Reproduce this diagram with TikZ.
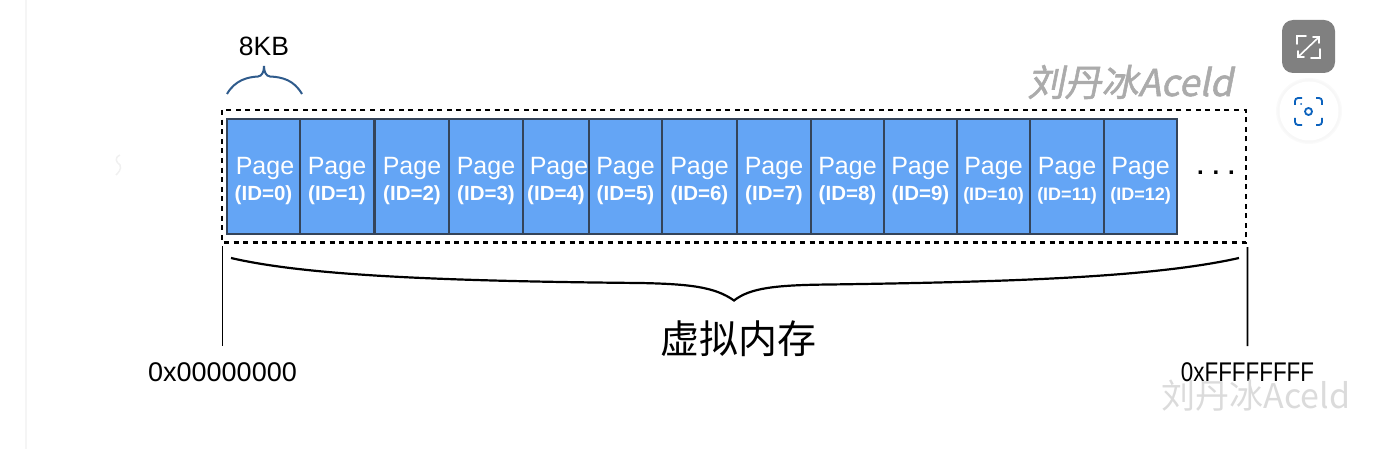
\documentclass[tikz,border=0pt]{standalone}
\usepackage{fontspec}
\setmainfont{Liberation Sans}
\newfontfamily\cjk{Noto Sans CJK SC}
\newfontfamily\cjkslant[FakeSlant=0.2,FakeBold=1.5]{Noto Sans CJK SC}
\definecolor{pageblue}{HTML}{64A5F5}
\definecolor{pageline}{HTML}{34445A}
\definecolor{bracketblue}{HTML}{2F5B8C}
\definecolor{scanblue}{HTML}{0B62BD}
\newcommand{\pagetext}[2]{{\fontsize{25}{26}\selectfont\rule{0pt}{27pt}Page}\\[5pt]{\fontsize{#2}{20}\selectfont\bfseries\rule[-5pt]{0pt}{20.5pt}(ID=#1)}}

\begin{document}
\begin{tikzpicture}[x=1pt,y=-1pt]
\tikzstyle{pagebox} = [rectangle, draw = pageline, fill = pageblue, line width = 1.2pt, minimum height = 115pt, inner sep = 0pt, text = white, align = center]
\tikzstyle{address} = [font = \fontsize{27}{30}\selectfont, inner xsep = 0pt, inner ysep = 16pt]
\tikzstyle{tick} = [line width = 1.6pt]
\useasboundingbox (0,0) rectangle (1399,449);
\draw[draw = black!4, line width = 1.5pt] (26,0)--(26,449);
\draw[draw = black!6, line width = 1.5pt] (120,155) .. controls (114,158) and (116,162) .. (120,165) .. controls (122,169) and (118,173) .. (116,175);
% pages
\node[pagebox, minimum width = 73pt] (p0) at (263.5,176.5) {\hspace*{3pt}\pagetext{0}{20.5}};
\node[pagebox, minimum width = 74pt] (p1) at (337,176.5) {\pagetext{1}{20.5}};
\node[pagebox, minimum width = 74pt] (p2) at (412,176.5) {\pagetext{2}{20.5}};
\node[pagebox, minimum width = 74pt] (p3) at (486,176.5) {\pagetext{3}{20.5}};
\node[pagebox, minimum width = 66pt] (p4) at (556,176.5) {\hspace*{6pt}\pagetext{4}{20.5}};
\node[pagebox, minimum width = 73pt] (p5) at (625.5,176.5) {\pagetext{5}{20.5}};
\node[pagebox, minimum width = 75pt] (p6) at (699.5,176.5) {\pagetext{6}{20.5}};
\node[pagebox, minimum width = 74pt] (p7) at (774,176.5) {\pagetext{7}{20.5}};
\node[pagebox, minimum width = 73pt] (p8) at (847.5,176.5) {\pagetext{8}{20.5}};
\node[pagebox, minimum width = 73pt] (p9) at (920.5,176.5) {\pagetext{9}{20.5}};
\node[pagebox, minimum width = 73pt] (p10) at (993.5,176.5) {\pagetext{10}{18}};
\node[pagebox, minimum width = 74pt] (p11) at (1067,176.5) {\pagetext{11}{18}};
\node[pagebox, minimum width = 73pt] (p12) at (1140.5,176.5) {\pagetext{12}{18}};
\node[font = \fontsize{24}{24}\selectfont\bfseries] (more) at (1216,173) {. . .};
\draw[black, line width = 2.2pt, dash pattern = on 5pt off 4.6pt] (222,110) rectangle (1246,242.5);
% size of one page
\node[font = \fontsize{26.5}{30}\selectfont] (size) at (264,46) {8KB};
\coordinate (sizeleft) at (227,94);
\coordinate (sizetip) at (264,66);
\coordinate (sizeright) at (302,94);
\draw[draw = bracketblue, line width = 2pt] (sizeleft) .. controls (235,80) and (248,77) .. (258,76.5) .. controls (262,76) and (264,72) .. (sizetip) .. controls (264,72) and (266,76) .. (270,76.5) .. controls (282,77) and (294,80) .. (sizeright);
% whole range
\coordinate (rangeleft) at (231,258);
\coordinate (rangetip) at (734,300.5);
\coordinate (rangeright) at (1239,258);
\draw[line width = 2.2pt] (rangeleft) .. controls (300,274) and (420,281) .. (640,283) .. controls (690,284) and (715,287) .. (rangetip) .. controls (750,288) and (775,285) .. (830,284.5) .. controls (1000,282) and (1150,278) .. (rangeright);
\node[font = \fontsize{39}{42}\selectfont\cjk] (memory) at (738.5,339) {虚拟内存};
\coordinate (lowtop) at (222.5,246);
\coordinate (hightop) at (1247.5,247);
\node[address] (low) at (222.5,372) {0x00000000};
\node[address, xscale = 0.83] (high) at (1247.5,372) {0xFFFFFFFF};
\draw[tick] (lowtop)--(low);
\draw[tick] (hightop)--(high);
% watermarks
\node[text = black!33, font = \fontsize{37}{40}\selectfont\cjkslant] (marktop) at (1130,82) {刘丹冰Aceld};
\node[text = black!14, font = \fontsize{34}{36}\selectfont\cjk] (markbottom) at (1256,396) {刘丹冰Aceld};
% buttons
\node[rectangle, rounded corners = 11pt, fill = black!50, minimum size = 53pt] (zoombtn) at (1308.5,46.5) {};
\draw[white, line width = 1.6pt, line cap = round] (1306,36) -- (1297,36) -- (1297,44) (1320,49) -- (1320,58) -- (1311,58);
\draw[white, line width = 1.6pt, line cap = round] (1319,37) -- (1298,57) (1313,37) -- (1319,37) -- (1319,43) (1298,51) -- (1298,57) -- (1304,57);
\fill[black!2] (1309,111) circle (33);
\fill[black!3] (1309,111) circle (31.5);
\node[circle, fill = white, minimum size = 59pt, inner sep = 0pt] (scanbtn) at (1309,111) {};
\draw[scanblue, line width = 1.8pt, rounded corners = 3pt] (1295,105) -- (1295,98) -- (1302,98) (1316,98) -- (1322,98) -- (1322,105) (1322,118) -- (1322,125) -- (1316,125) (1302,125) -- (1295,125) -- (1295,118);
\draw[scanblue, line width = 1.8pt] (1308.5,111.5) circle (3.5);
\fill[scanblue] (1301,104) circle (1);
\end{tikzpicture}
\end{document}
